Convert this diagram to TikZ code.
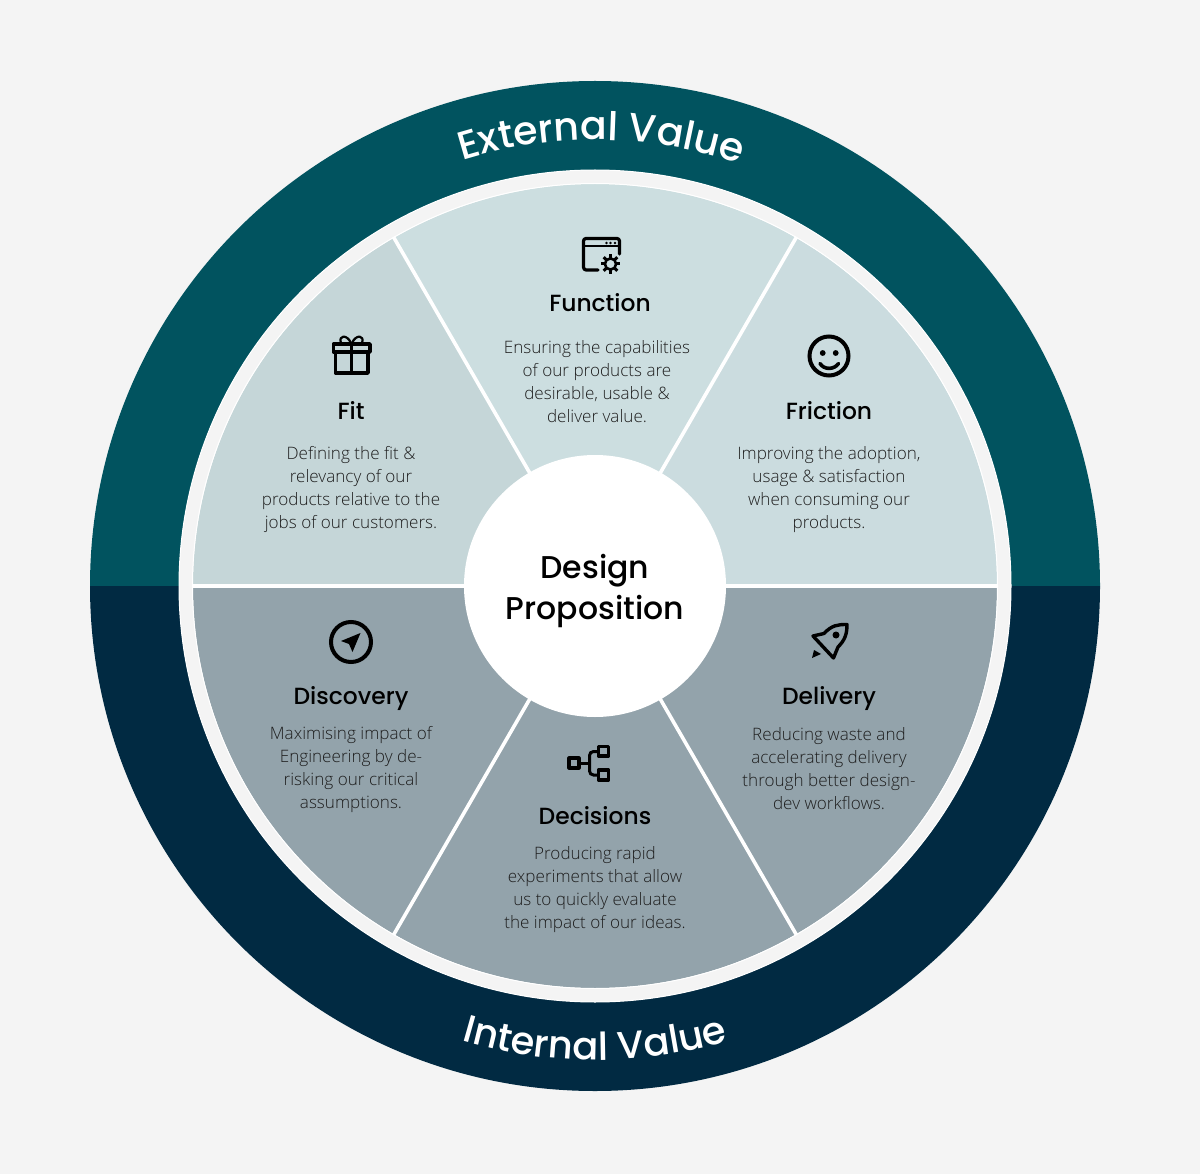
\documentclass[tikz,border=0pt]{standalone}
\usepackage{fontspec}
\usetikzlibrary{decorations.text}
\setmainfont{Open Sans Light}
\newfontfamily\headf{Poppins Medium}
\newfontfamily\bodyf{Open Sans Light}
\definecolor{bgc}{HTML}{F4F4F4}
\definecolor{teal}{HTML}{01535F}
\definecolor{navy}{HTML}{012A42}
\definecolor{ringc}{HTML}{F4F4F4}
\definecolor{wtop}{HTML}{CCDEE0}
\definecolor{wleft}{HTML}{C5D6D8}
\definecolor{wright}{HTML}{CBDCDF}
\definecolor{wlow}{HTML}{93A3AB}
\definecolor{ink}{HTML}{0A0A0A}
\tikzset{
  x=1pt,y=1pt,
  bodytext/.style={align=center,text=ink!92,font=\bodyf\fontsize{17.1}{23}\selectfont,inner sep=0pt},
  titletext/.style={anchor=base,text=black,font=\headf\fontsize{23.4}{30}\selectfont,inner sep=0pt},
  centertext/.style={align=center,text=black,font=\headf\fontsize{31.5}{41}\selectfont,inner sep=0pt},
  icon/.style={draw=black,line width=3.2pt,line join=round,line cap=round},
  spoke/.style={draw=white,line width=3.6pt},
}
\newcommand{\wedgefill}[3]{\fill[#1] (595,-586) -- ++(#2:402) arc[start angle=#2,end angle=#3,radius=402] -- cycle;}
\begin{document}
\begin{tikzpicture}
\useasboundingbox (0,0) rectangle (1200,-1174);
\fill[bgc] (0,0) rectangle (1200,-1174);
% outer ring
\fill[teal] (90,-586) arc[start angle=180,end angle=0,radius=505] -- cycle;
\fill[navy] (90,-586) arc[start angle=180,end angle=360,radius=505] -- cycle;
\fill[ringc,draw=white,line width=1pt] (595,-586) circle[radius=416];
% wedges
\wedgefill{wtop}{60}{120}
\wedgefill{wleft}{120}{180}
\wedgefill{wright}{0}{60}
\wedgefill{wlow}{180}{360}
\draw[white,line width=1pt] (595,-586) circle[radius=402.5];
% spokes
\foreach \a in {0,60,120,180,240,300}
  \draw[spoke] (595,-586) -- ++(\a:403);
\fill[white] (595,-586) circle[radius=131];
% ring labels
\path[postaction={decorate},decoration={text along path,text align=center,
  text={|\headf\fontsize{39.5}{40}\selectfont\color{white}|External Value}}]
  (595,-586) ++(149.2:446) arc[start angle=149.2,end angle=29.2,radius=446];
\path[postaction={decorate},decoration={text along path,text align=center,
  text={|\headf\fontsize{38.5}{40}\selectfont\color{white}|Internal Value}}]
  (595,-586) ++(210:474) arc[start angle=210,end angle=330,radius=474];
% centre
\node[centertext] (centre) at (595,-590.5) {Design\\Proposition};
% titles
\node[titletext] (tfunction) at (600,-312) {Function};
\node[titletext] (tfit) at (351,-420) {Fit};
\node[titletext] (tfriction) at (829,-420) {Friction};
\node[titletext] (tdiscovery) at (351,-704) {Discovery};
\node[titletext] (tdelivery) at (829,-704) {Delivery};
\node[titletext] (tdecisions) at (595,-824) {Decisions};
% bodies
\node[bodytext] (bfunction) at (597,-381.5) {Ensuring the capabilities\\of our products are\\desirable, usable \&\\deliver value.};
\node[bodytext] (bfit) at (351,-489.5) {Defining the fit \&\\relevancy of our\\products relative to the\\jobs of our customers.};
\node[bodytext] (bfriction) at (829,-489.5) {Improving the adoption,\\usage \& satisfaction\\when consuming our\\products.};
\node[bodytext] (bdiscovery) at (351,-769.5) {Maximising impact of\\Engineering by de-\\risking our critical\\assumptions.};
\node[bodytext] (bdelivery) at (829,-769) {Reducing waste and\\accelerating delivery\\through better design-\\dev workflows.};
\node[bodytext] (bdecisions) at (595,-889.5) {Producing rapid\\experiments that allow\\us to quickly evaluate\\the impact of our ideas.};
% icon: window + gear
\draw[icon] (598,-270) -- (586,-270) to[out=180,in=-90] (583.5,-267) -- (583.5,-241) to[out=90,in=180] (586,-238.5) -- (617,-238.5) to[out=0,in=90] (619.5,-241) -- (619.5,-254);
\draw[icon,line width=2pt] (584,-246.5) -- (619,-246.5);
\foreach \x in {606.5,610.5,615} \fill[black] (\x,-243) circle[radius=1.4];
\draw[black,line width=2.6pt] (610.5,-264) circle[radius=5.6];
\foreach \a in {0,45,...,315} \draw[black,line width=3pt] (610.5,-264) ++(\a:6) -- ++(\a:3.6);
% icon: gift
\draw[icon,line cap=butt,line width=3.4pt] (333.5,-344) rectangle (370,-352);
\draw[icon,line cap=butt,line width=3.4pt] (335.5,-352) rectangle (368,-373);
\draw[black,line width=2.6pt] (351.5,-344) -- (351.5,-373);
\draw[icon,line width=2.2pt] (351,-343) .. controls (347,-334) and (338,-335) .. (341,-343);
\draw[icon,line width=2.2pt] (352,-343) .. controls (356,-334) and (365,-335) .. (362,-343);
% icon: smile
\draw[black,line width=4pt] (829,-356) circle[radius=19.5];
\fill[black] (822.7,-353) circle[radius=2.9];
\fill[black] (835.7,-353) circle[radius=2.9];
\draw[black,line width=3.6pt,line cap=round] (820,-363.5) .. controls (824,-370) and (834,-370) .. (838.5,-363.5);
% icon: compass
\draw[black,line width=4pt] (351,-642) circle[radius=20];
\fill[black] (360.5,-633) -- (341,-641) -- (349,-644) -- (352.5,-652) -- cycle;
% icon: rocket
\draw[icon,line width=3.4pt] (813,-636) -- (824,-633.5) .. controls (832,-625) and (838,-624.5) .. (847,-624.5) .. controls (847,-634) and (845,-640) .. (838,-647) -- (833.5,-658) -- cycle;
\fill[black] (836,-635) circle[radius=3.5];
\fill[black] (812,-658) -- (814,-650) -- (821,-654) -- cycle;
% icon: decisions
\draw[icon,line cap=butt,line width=3.2pt] (569,-758) rectangle (579,-768);
\draw[icon,line cap=butt,line width=3.2pt] (598.5,-746.5) rectangle (608.5,-756);
\draw[icon,line cap=butt,line width=3.2pt] (598.5,-770) rectangle (608.5,-780);
\draw[black,line width=3pt] (579,-763) -- (589.5,-763);
\draw[black,line width=3pt,rounded corners=4pt] (598.5,-751.5) -- (589.5,-751.5) -- (589.5,-775) -- (598.5,-775);
\end{tikzpicture}
\end{document}
